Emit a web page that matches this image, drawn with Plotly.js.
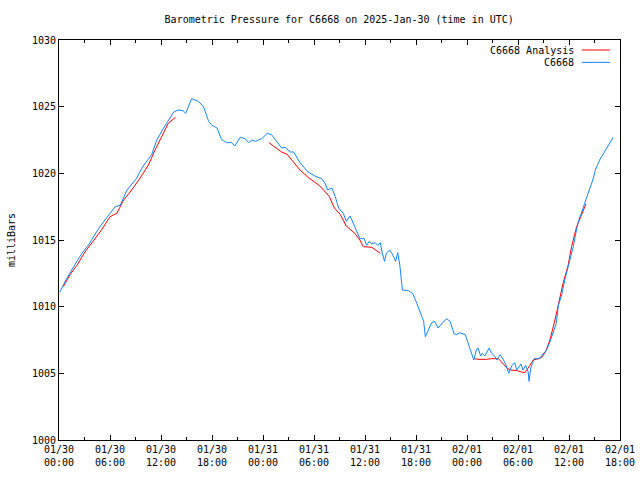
<!DOCTYPE html>
<html>
<head>
<meta charset="utf-8">
<script src="https://cdn.plot.ly/plotly-3.0.1.min.js"></script>
<style>html,body{margin:0;padding:0;background:#fff;}#chart{width:640px;height:480px;}</style>
</head>
<body>
<div id="chart"></div>
<script>
// Hours since 2025-01-30 00:00 UTC
var obsHours = [0.1,0.9,2.1,2.7,3.45,4.4,5.4,6.6,7.2,8.0,9.1,9.9,10.9,11.5,12.3,13.5,14.0,14.6,14.9,15.6,16.4,17.0,17.6,18.0,18.6,19.1,19.7,20.3,20.7,21.3,21.9,22.3,22.7,23.1,23.85,24.5,25.0,25.6,26.2,26.6,27.2,27.6,28.35,29.3,30.1,30.9,31.3,31.6,32.1,32.5,32.9,33.45,33.8,34.25,34.6,35.0,35.4,35.9,36.2,36.5,36.8,37.2,37.5,37.8,38.0,38.3,38.5,38.9,39.25,39.6,39.85,40.1,40.4,41.1,41.6,42.1,42.55,42.9,43.1,43.85,44.2,44.6,45.0,45.6,46.0,46.5,46.8,47.1,47.8,48.15,48.5,48.8,49.1,49.3,49.6,49.8,50.1,50.6,50.9,51.3,51.5,51.9,52.3,52.6,52.9,53.3,53.6,53.85,54.35,54.6,54.9,55.2,55.3,55.5,55.7,55.9,56.5,57.0,57.35,57.7,58.1,58.5,58.75,59.15,59.5,59.9,60.2,60.5,60.8,61.1,61.5,61.9,62.3,62.8,63.1,63.6,64.2,64.8,65.2];
var obsValues = [1011.1,1012.1,1013.4,1014.0,1014.6,1015.6,1016.5,1017.5,1017.6,1018.75,1019.6,1020.55,1021.4,1022.5,1023.4,1024.6,1024.75,1024.7,1024.5,1025.6,1025.4,1025.0,1023.9,1023.6,1023.4,1022.55,1022.3,1022.3,1022.05,1022.7,1022.6,1022.3,1022.5,1022.4,1022.6,1023.0,1022.9,1022.4,1021.9,1021.95,1021.6,1021.6,1020.8,1020.1,1019.8,1019.6,1019.25,1018.75,1018.9,1018.25,1017.4,1017.0,1016.4,1016.8,1016.25,1015.6,1015.1,1015.1,1014.6,1014.9,1014.7,1014.8,1014.6,1014.8,1014.1,1013.4,1014.0,1014.25,1013.9,1013.4,1014.05,1013.1,1011.25,1011.2,1011.0,1010.25,1009.5,1008.9,1007.75,1008.8,1008.9,1008.4,1008.7,1009.1,1008.9,1007.95,1007.9,1008.05,1007.9,1007.25,1006.6,1006.0,1006.75,1006.9,1006.3,1006.5,1006.3,1006.9,1006.5,1006.25,1006.0,1006.4,1006.0,1005.6,1005.0,1005.6,1005.8,1005.25,1005.7,1005.25,1005.6,1005.1,1004.4,1005.4,1005.75,1006.1,1006.1,1006.45,1006.75,1007.25,1008.0,1008.75,1010.1,1010.9,1012.0,1013.0,1013.9,1014.5,1015.5,1016.4,1017.1,1017.9,1018.6,1019.5,1020.25,1021.0,1021.6,1022.2,1022.7];

// Analysis series (null = gap between analysis segments)
var anaHours = [0.5,1.3,2.1,3.05,4.0,5.0,6.0,6.8,7.6,8.55,9.5,10.5,11.3,12.1,12.85,13.7,
  19.0,
  24.7,25.4,26.2,26.8,27.4,28.35,29.3,30.1,30.6,31.2,31.8,32.4,33.1,33.8,34.8,35.4,35.8,36.8,37.4,37.8,
  43.0,
  48.9,49.3,50.3,50.9,51.7,52.1,52.7,53.1,53.9,54.4,54.8,55.2,55.8,56.4,56.8,57.3,57.75,58.35,58.85,59.3,59.9,60.3,60.9,61.5,62.0];
var anaValues = [1011.5,1012.4,1013.1,1014.1,1014.9,1015.75,1016.75,1017.0,1018.0,1018.75,1019.6,1020.6,1021.75,1022.75,1023.75,1024.2,
  null,
  1022.3,1022.0,1021.6,1021.45,1021.0,1020.25,1019.7,1019.3,1019.1,1018.7,1018.25,1017.4,1016.9,1016.05,1015.5,1015.0,1014.5,1014.45,1014.2,1014.0,
  null,
  1006.1,1006.05,1006.05,1006.1,1006.1,1005.8,1005.4,1005.25,1005.2,1005.1,1005.05,1005.4,1006.0,1006.1,1006.2,1006.7,1007.5,1009.0,1010.5,1011.75,1013.1,1014.5,1016.0,1017.0,1017.7];

var tickHours = [0,6,12,18,24,30,36,42,48,54,60,66];
var tickLabels = ["01/30<br>00:00","01/30<br>06:00","01/30<br>12:00","01/30<br>18:00",
  "01/31<br>00:00","01/31<br>06:00","01/31<br>12:00","01/31<br>18:00",
  "02/01<br>00:00","02/01<br>06:00","02/01<br>12:00","02/01<br>18:00"];
var yTicks = [1000,1005,1010,1015,1020,1025,1030];

var seriesNames = ["C6668 Analysis","C6668"];
var seriesColors = ["#ff0000","#1385ff"];

var font = {family: "DejaVu Sans Mono, Liberation Mono, monospace", size: 10, color: "#000"};

var traces = [
  {x: anaHours, y: anaValues, type: "scatter", mode: "lines", name: seriesNames[0],
   line: {color: seriesColors[0], width: 1}, connectgaps: false},
  {x: obsHours, y: obsValues, type: "scatter", mode: "lines", name: seriesNames[1],
   line: {color: seriesColors[1], width: 1}}
];

var layout = {
  width: 640, height: 480,
  margin: {l: 59, r: 20, t: 40, b: 40, pad: 0},
  paper_bgcolor: "#fff", plot_bgcolor: "#fff",
  font: font,
  showlegend: false,
  title: {text: "Barometric Pressure for C6668 on 2025-Jan-30 (time in UTC)",
          font: font, x: 0.53, xanchor: "center", y: 0.96, yanchor: "middle", yref: "container"},
  xaxis: {range: [0, 66], tickvals: tickHours, ticktext: tickLabels, showgrid: false, zeroline: false,
          showline: true, linecolor: "#000", linewidth: 1, mirror: "ticks",
          ticks: "inside", ticklen: 5, tickcolor: "#000", tickfont: font,
          minor: {dtick: 3, tick0: 0, ticks: "inside", ticklen: 3, tickcolor: "#000", showgrid: false}},
  yaxis: {range: [1000, 1030], tickvals: yTicks, showgrid: false, zeroline: false,
          showline: true, linecolor: "#000", linewidth: 1, mirror: "ticks",
          ticks: "inside", ticklen: 5, tickcolor: "#000", tickfont: font,
          title: {text: "milliBars", font: font, standoff: 14}},
  annotations: [
    {xref: "paper", yref: "paper", x: 0.921, y: 0.975, xanchor: "right", yanchor: "middle",
     text: seriesNames[0], showarrow: false, font: font},
    {xref: "paper", yref: "paper", x: 0.921, y: 0.944, xanchor: "right", yanchor: "middle",
     text: seriesNames[1], showarrow: false, font: font}
  ],
  shapes: [
    {type: "line", xref: "paper", yref: "paper", x0: 0.932, x1: 0.982, y0: 0.975, y1: 0.975,
     line: {color: seriesColors[0], width: 1}},
    {type: "line", xref: "paper", yref: "paper", x0: 0.932, x1: 0.982, y0: 0.944, y1: 0.944,
     line: {color: seriesColors[1], width: 1}}
  ]
};

Plotly.newPlot("chart", traces, layout, {displayModeBar: false, staticPlot: true});
</script>
</body>
</html>
